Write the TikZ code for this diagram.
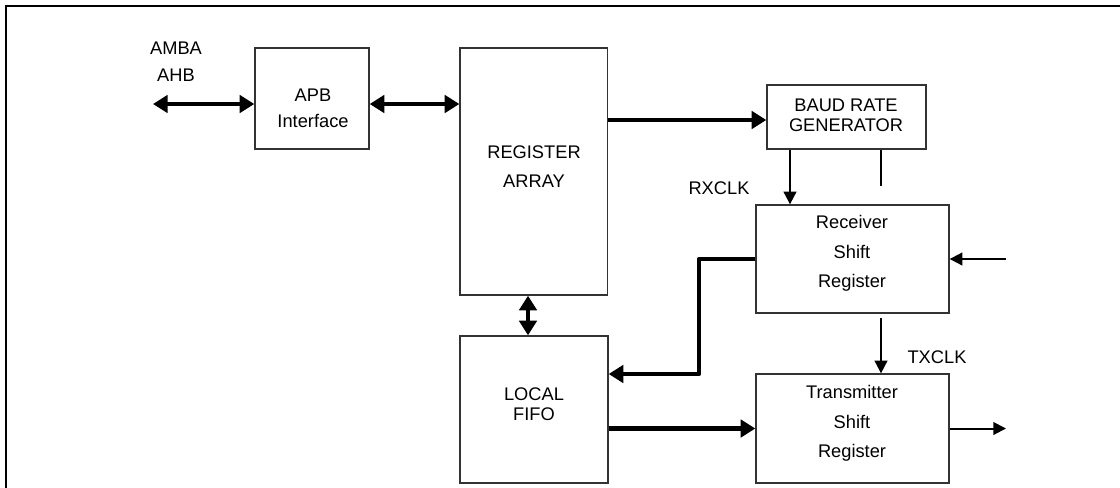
\documentclass[tikz,border=0pt]{standalone}
\usepackage{fontspec}
\setmainfont{Liberation Sans}
\usetikzlibrary{arrows.meta,calc}
\begin{document}
\begin{tikzpicture}[x=0.75pt,y=-0.75pt,
  box/.style={draw=black!80,line width=1pt,inner sep=0pt,rectangle},
  lbl/.style={align=center,inner sep=0pt,font=\fontsize{13.7pt}{#1}\selectfont},
  lbl/.default=20pt,
  bus/.style={line width=3.6pt,line join=round},
  busa/.style={bus,-{Triangle[length=11pt,width=13pt]}},
  busd/.style={bus,{Triangle[length=11pt,width=13pt]}-{Triangle[length=11pt,width=13pt]}},
  sig/.style={line width=1.3pt},
  siga/.style={line width=1.5pt,-{Triangle[length=9.5pt,width=9.5pt]}},
  frame/.style={line width=1.7pt}
]
\useasboundingbox (0,0) rectangle (1120,487);
\draw[frame] (1125,6.2) -- (5.7,6.2) -- (5.7,492);

% boxes
\node[box,minimum width=85.5pt,minimum height=75.75pt] (apb) at (312,98.5) {};
\node[box,minimum width=110.6pt,minimum height=185.25pt] (reg) at (533.75,171.5) {};
\node[box,minimum width=111pt,minimum height=110.25pt] (fifo) at (534,409.5) {};
\node[box,minimum width=119.25pt,minimum height=48pt] (baud) at (846.5,117) {};
\node[box,minimum width=144.75pt,minimum height=81pt] (rx) at (852.5,259) {};
\node[box,minimum width=144.75pt,minimum height=81.75pt] (tx) at (852.5,428.5) {};

% texts
\node[lbl=20.25pt] (amba) at (176,61.5) {AMBA\\AHB};
\node[lbl=19.5pt] (apbt) at (313,108) {APB\\Interface};
\node[lbl=21.75pt] (regt) at (534,166.5) {REGISTER\\ARRAY};
\node[lbl=15pt] (fifot) at (534,404) {LOCAL\\FIFO};
\node[lbl=15pt] (baudt) at (846,115) {BAUD RATE\\GENERATOR};
\node[lbl=22pt] (rxt) at (852,253.5) {Receiver\\Shift\\Register};
\node[lbl=22pt] (txt) at (852,423.5) {Transmitter\\Shift\\Register};
\node[lbl] (rxclk) at (719,188) {RXCLK};
\node[lbl] (txclk) at (937,357) {TXCLK};

% connectors
\coordinate (ahb) at (153,104);
\draw[busd] (ahb) -- (ahb -| apb.west);
\draw[busd] (ahb -| apb.east) -- (ahb -| reg.west);
\coordinate (baudy) at (0,120);
\draw[busa] (reg.east |- baudy) -- (baud.west |- baudy);
\coordinate (vx) at (528,0);
\draw[busd] (reg.south -| vx) -- (fifo.north -| vx);
\coordinate (rxc) at (790,0);
\draw[siga] (baud.south -| rxc) -- (rx.north -| rxc);
\coordinate (stubend) at (881,186);
\draw[sig] (baud.south -| stubend) -- (stubend);
\coordinate (txin) at (881,318);
\draw[siga] (txin) -- (tx.north -| txin);
\coordinate (rxin) at (1006,259);
\draw[siga] (rxin) -- (rx.east);
\coordinate (bend) at (699,374);
\draw[busa] (rx.west) -| (bend) -- (bend -| fifo.east);
\draw[busa] (fifo.east |- tx.west) -- (tx.west);
\coordinate (txout) at (1006,428.5);
\draw[siga] (tx.east) -- (txout);
\end{tikzpicture}
\end{document}
